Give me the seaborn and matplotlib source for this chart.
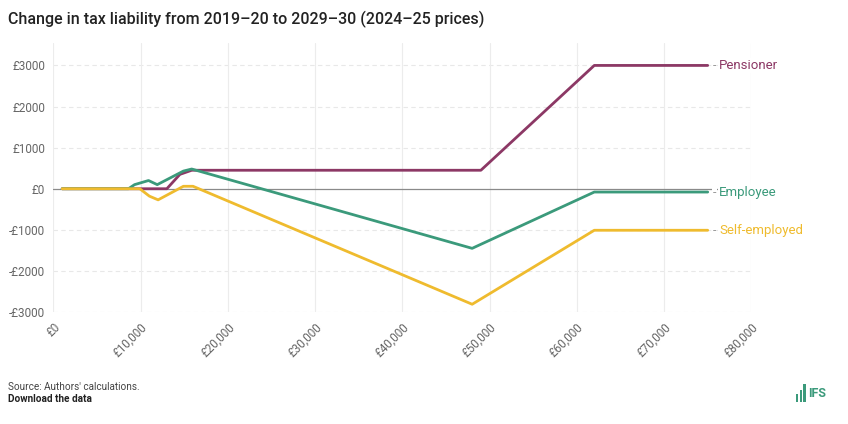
import matplotlib
matplotlib.use("Agg")
import matplotlib.pyplot as plt
import matplotlib.patches as mpatches
import matplotlib.ticker as mticker
import pandas as pd
import seaborn as sns

# data (gross income, £ change in tax)
pensioner_income = [1000, 13000, 14500, 15850, 49000, 62000, 75000]
pensioner_change = [0, 0, 350, 450, 450, 3000, 3000]

employee_income = [1000, 8600, 9300, 10900, 11900, 14900, 15850, 48000, 48400, 62000, 75000]
employee_change = [0, 0, 100, 200, 100, 430, 480, -1450, -1410, -80, -80]

selfemp_income = [1000, 9900, 11000, 12000, 14900, 16000, 48000, 62000, 75000]
selfemp_change = [0, 0, -180, -270, 60, 60, -2810, -1010, -1010]

series_names = ["Pensioner", "Employee", "Self-employed"]
series_colors = ["#8c3865", "#3b9a7b", "#efbb2e"]

frames = []
for name, xs, ys in zip(series_names,
                        [pensioner_income, employee_income, selfemp_income],
                        [pensioner_change, employee_change, selfemp_change]):
    frames.append(pd.DataFrame({"income": xs, "change": ys, "group": name}))
df = pd.concat(frames, ignore_index=True)

sns.set_theme(style="white")
plt.rcParams["font.family"] = ["Roboto", "DejaVu Sans"]

fig = plt.figure(figsize=(8.48, 4.24), dpi=100)
ax = fig.add_axes([0.063, 0.264, 0.823, 0.635])

# grid
for v in [-3000, -2000, -1000, 1000, 2000, 3000]:
    ax.axhline(v, color="#e8e8e8", lw=0.8, ls=(0, (4, 3)), zorder=0)
for v in range(0, 80001, 10000):
    ax.axvline(v, color="#ececec", lw=0.8, zorder=0)
ax.axhline(0, color="#8a8a8a", lw=0.9, zorder=1)

sns.lineplot(data=df, x="income", y="change", hue="group", hue_order=series_names,
             palette=series_colors, linewidth=2.0, legend=False, sort=False,
             estimator=None, ax=ax, zorder=3)

ax.set_xlim(0, 80000)
ax.set_ylim(-3000, 3550)
ax.set_xticks(range(0, 80001, 10000))
ax.set_yticks(range(-3000, 3001, 1000))
ax.xaxis.set_major_formatter(mticker.FuncFormatter(lambda v, p: "£0" if v == 0 else f"£{int(v):,}"))
ax.yaxis.set_major_formatter(mticker.FuncFormatter(lambda v, p: f"-£{int(-v)}" if v < 0 else f"£{int(v)}"))
for lab in ax.get_xticklabels():
    lab.set_rotation(45)
    lab.set_ha("right")
    lab.set_rotation_mode("anchor")
ax.tick_params(axis="both", length=0, labelsize=8.5, labelcolor="#666666", pad=6)
ax.set_xlabel("")
ax.set_ylabel("")
for s in ax.spines.values():
    s.set_visible(False)

# direct labels at the line ends
last_vals = [pensioner_change[-1], employee_change[-1], selfemp_change[-1]]
for name, col, yv in zip(series_names, series_colors, last_vals):
    ax.text(75600, yv, "-", color="#999999", fontsize=9, va="center", ha="left",
            clip_on=False, zorder=5,
            bbox=dict(facecolor="white", edgecolor="none", pad=0.5))
    ax.text(76300, yv, name, color=col, fontsize=9.5, va="center", ha="left",
            clip_on=False, zorder=5,
            bbox=dict(facecolor="white", edgecolor="none", pad=0.5))

fig.text(0.0095, 0.955, "Change in tax liability from 2019–20 to 2029–30 (2024–25 prices)",
         fontsize=11.5, fontweight="medium", color="#222222", va="center", ha="left")
fig.text(0.0095, 0.087, "Source: Authors' calculations.", fontsize=7.2, color="#444444",
         va="center", ha="left")
fig.text(0.0095, 0.059, "Download the data", fontsize=7.2, fontweight="bold", color="#222222",
         va="center", ha="left")

# IFS logo
logo_green = "#3b9a7b"
for i, h in enumerate([0.018, 0.028, 0.042]):
    fig.add_artist(mpatches.Rectangle((0.9385 + i * 0.0045, 0.052), 0.003, h,
                                      transform=fig.transFigure, color=logo_green, lw=0))
fig.text(0.9535, 0.071, "IFS", fontsize=9, fontweight="bold", color=logo_green,
         va="center", ha="left")

fig.savefig("out.png", dpi=100)
